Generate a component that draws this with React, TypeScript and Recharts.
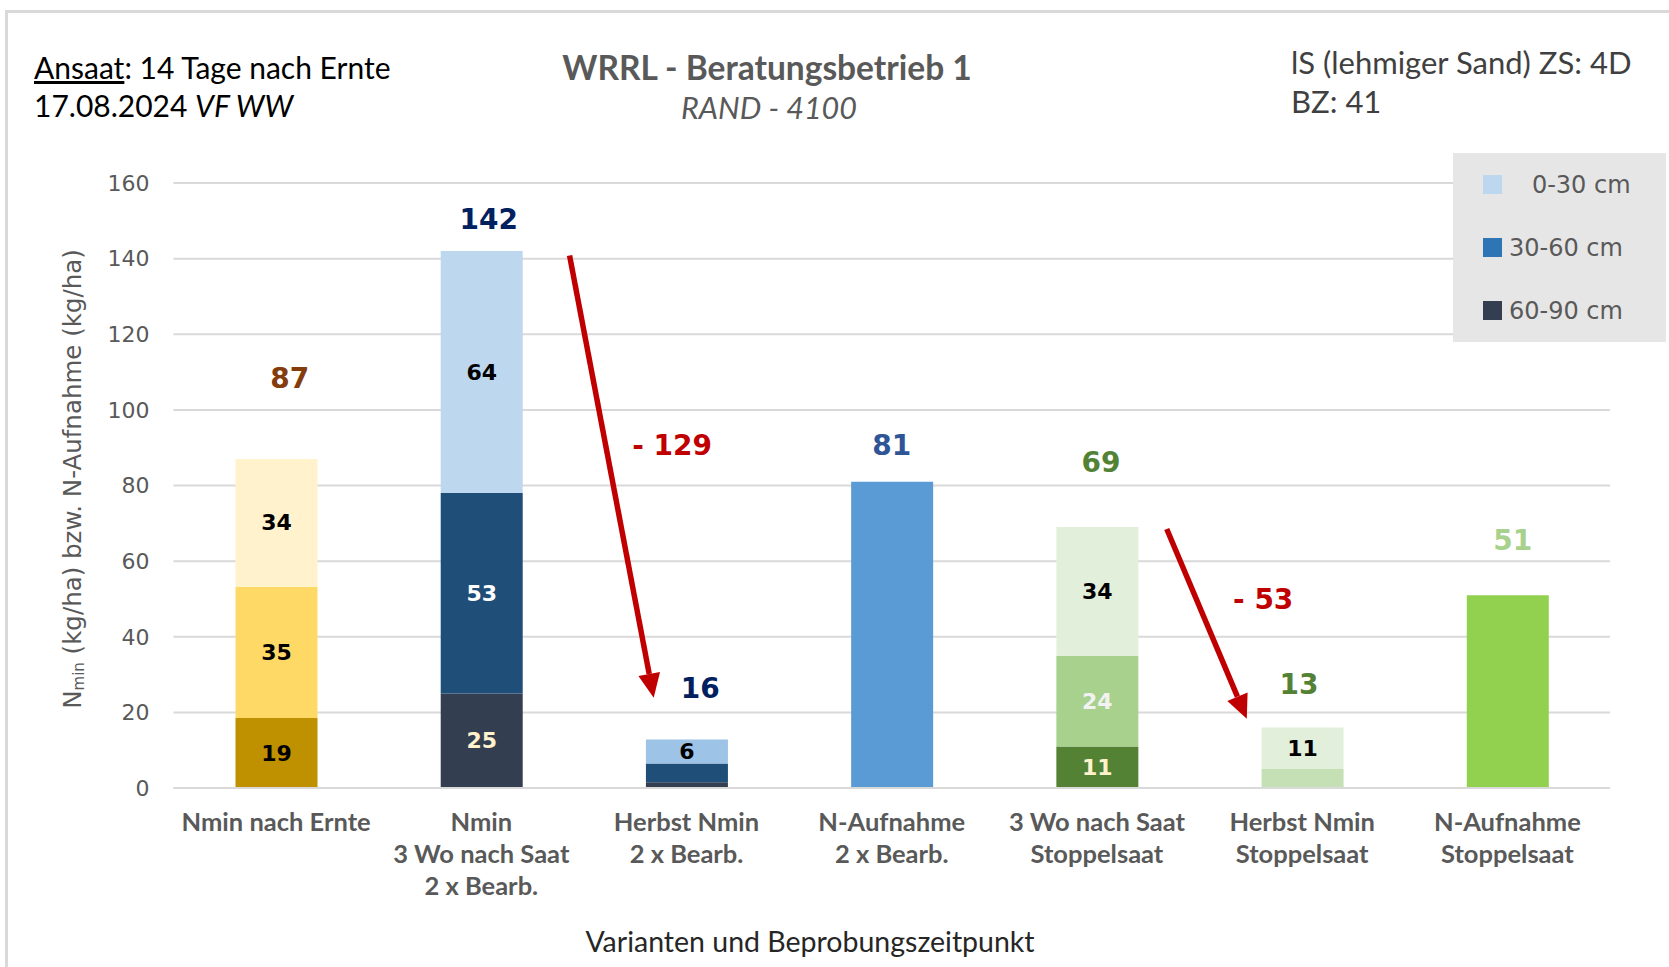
import React from 'react';
import {
  BarChart, Bar, XAxis, YAxis, CartesianGrid, Cell, LabelList, Legend,
  ReferenceLine, ReferenceDot,
} from 'recharts';

// ---------- data ----------
const categories = [
  'Nmin nach Ernte',
  'Nmin\n3 Wo nach Saat\n2 x Bearb.',
  'Herbst Nmin\n2 x Bearb.',
  'N-Aufnahme\n2 x Bearb.',
  '3 Wo nach Saat\nStoppelsaat',
  'Herbst Nmin\nStoppelsaat',
  'N-Aufnahme\nStoppelsaat',
];
const layer6090 = [18.5, 25, 1.5, 81, 11, 5, 51]; // bottom segment (single bars too)
const layer3060 = [34.7, 53, 5, 0, 24, 0, 0];
const layer030 = [33.8, 64, 6.3, 0, 34, 11, 0];

const labels6090 = ['19', '25', '', '', '11', '', ''];
const labels3060 = ['35', '53', '', '', '24', '', ''];
const labels030 = ['34', '64', '6', '', '34', '11', ''];

const totalLabels = ['87', '142', '16', '81', '69', '13', '51'];
const totalLabelX = [0.067, 1.036, 2.067, 3.0, 4.02, 4.984, 6.026];
const totalLabelY = [108.2, 150.4, 26.2, 90.7, 86.2, 27.3, 65.4];

const yTicks = [0, 20, 40, 60, 80, 100, 120, 140, 160];

// arrows in (category index, value) units
const arrows = [
  { x1: 1.43, y1: 140.8, x2: 1.84, y2: 23.9 },
  { x1: 4.34, y1: 68.5, x2: 4.73, y2: 18.3 },
];
const diffLabels = [
  { x: 1.93, y: 90.7, text: '- 129' },
  { x: 4.81, y: 49.9, text: '- 53' },
];

const legendNames = ['60-90 cm', '30-60 cm', '   0-30 cm'];

// ---------- styles ----------
const colors6090 = ['#BF9000', '#333F50', '#333F50', '#5B9BD5', '#548235', '#C5E0B4', '#92D050'];
const colors3060 = ['#FFD966', '#1F4E79', '#1F4E79', '#5B9BD5', '#A9D18E', '#C5E0B4', '#92D050'];
const colors030 = ['#FFF2CC', '#BDD7EE', '#9DC3E6', '#5B9BD5', '#E2EFDA', '#E2EFDA', '#92D050'];
const labelColors6090 = ['#000000', '#FFF2CC', '#000', '#000', '#FFF2CC', '#000', '#000'];
const labelColors3060 = ['#000000', '#FFFFFF', '#000', '#000', '#F2F2F2', '#000', '#000'];
const labelColors030 = ['#000000', '#000000', '#000', '#000', '#000000', '#000', '#000'];
const totalColors = ['#843C0C', '#002060', '#002060', '#2F5597', '#538135', '#538135', '#A9D18E'];
const legendColors = ['#333F50', '#2E75B6', '#BDD7EE'];

const data = categories.map((c, i) => ({
  name: c,
  pos: i,
  v6090: layer6090[i],
  v3060: layer3060[i],
  v030: layer030[i],
}));

const SANS = 'DejaVu Sans, Verdana, sans-serif';
const CAL = 'Lato, "Open Sans", sans-serif';

const makeSegLabel = (texts: string[], cols: string[]) => (props: any) => {
  const vb = props.viewBox || props;
  const x = vb.x ?? props.x;
  const y = vb.y ?? props.y;
  const w = vb.width ?? props.width;
  const h = vb.height ?? props.height;
  const idx = props.value;
  if (idx == null || typeof idx !== 'number') return null;
  const t = texts[idx];
  if (!t) return null;
  return (
    <text
      x={x + w / 2}
      y={y + h / 2}
      textAnchor="middle"
      dominantBaseline="central"
      fontFamily={SANS}
      fontWeight="bold"
      fontSize={22}
      fill={cols[idx]}
    >
      {t}
    </text>
  );
};

const CategoryTick = (props: any) => {
  const { x, y, payload } = props;
  const lines = String(payload.value).split('\n');
  return (
    <g>
      {lines.map((l, i) => (
        <text
          key={i}
          x={x}
          y={y + 25 + i * 32}
          textAnchor="middle"
          dominantBaseline="central"
          fontFamily={CAL}
          fontWeight={700}
          fontSize={25.5}
          fill="#595959"
        >
          {l}
        </text>
      ))}
    </g>
  );
};

const YLabel = (props: any) => {
  const vb = props.viewBox || {};
  const cx = (vb.x ?? 53) + 18.5;
  const cy = 479;
  return (
    <text
      x={cx}
      y={cy}
      transform={`rotate(-90, ${cx}, ${cy})`}
      textAnchor="middle"
      dominantBaseline="central"
      fontFamily={SANS}
      fontSize={24.5}
      fill="#595959"
    >
      N
      <tspan dy={7} fontSize={15}>min</tspan>
      <tspan dy={-7}> (kg/ha) bzw. N-Aufnahme (kg/ha)</tspan>
    </text>
  );
};

const LegendContent = () => (
  <div
    style={{
      width: 213,
      height: 189,
      background: '#E7E6E6',
      boxSizing: 'border-box',
      paddingLeft: 30,
      paddingTop: 16,
    }}
  >
    {[2, 1, 0].map((i) => (
      <div
        key={i}
        style={{ display: 'flex', alignItems: 'center', height: 31, marginBottom: 32 }}
      >
        <div style={{ width: 19, height: 19, background: legendColors[i], marginRight: 7 }} />
        <span
          style={{
            fontFamily: SANS,
            fontSize: 24,
            color: '#595959',
            whiteSpace: 'pre',
          }}
        >
          {legendNames[i]}
        </span>
      </div>
    ))}
  </div>
);

const ArrowShape = (props: any) => {
  const { x1, y1, x2, y2 } = props;
  if ([x1, y1, x2, y2].some((v) => v == null || isNaN(v))) return null;
  const dx = x2 - x1;
  const dy = y2 - y1;
  const len = Math.sqrt(dx * dx + dy * dy);
  const ux = dx / len;
  const uy = dy / len;
  const headL = 24;
  const headW = 11;
  const bx = x2 - ux * headL;
  const by = y2 - uy * headL;
  const px = -uy;
  const py = ux;
  return (
    <g>
      <line x1={x1} y1={y1} x2={bx} y2={by} stroke="#C00000" strokeWidth={5.5} />
      <polygon
        points={`${x2},${y2} ${bx + px * headW},${by + py * headW} ${bx - px * headW},${by - py * headW}`}
        fill="#C00000"
      />
    </g>
  );
};

const PLOT_W = 1669 - 59 - 173.5;
const HALF_BAND = PLOT_W / 14;

export default function App() {
  return (
    <div
      style={{
        position: 'absolute',
        left: 0,
        top: 0,
        width: 1669,
        height: 967,
        background: '#fff',
        overflow: 'hidden',
      }}
    >
      {/* outer frame */}
      <div
        style={{
          position: 'absolute',
          left: 5,
          top: 10,
          width: 1700,
          height: 1000,
          borderTop: '3px solid #D9D9D9',
          borderLeft: '3px solid #D9D9D9',
        }}
      />
      <BarChart
        width={1669}
        height={967}
        data={data}
        margin={{ top: 183, right: 59, bottom: 79, left: 53.5 }}
        style={{ position: 'absolute', left: 0, top: 0 }}
      >
        <CartesianGrid vertical={false} stroke="#D9D9D9" strokeWidth={2} />
        <XAxis
          xAxisId="cat"
          dataKey="name"
          height={100}
          interval={0}
          tickLine={false}
          axisLine={{ stroke: '#D9D9D9', strokeWidth: 2 }}
          tick={<CategoryTick />}
        />
        <XAxis
          xAxisId="num"
          dataKey="pos"
          type="number"
          domain={[0, 6]}
          padding={{ left: HALF_BAND, right: HALF_BAND }}
          allowDataOverflow
          hide
        />
        <YAxis
          width={120}
          domain={[0, 160]}
          ticks={yTicks}
          interval={0}
          tickLine={false}
          axisLine={false}
          tickSize={0}
          tickMargin={24}
          tick={{ fontFamily: SANS, fontSize: 22, fill: '#595959' }}
          label={<YLabel />}
        />
        <Legend
          layout="vertical"
          align="center"
          verticalAlign="middle"
          wrapperStyle={{ position: 'absolute', left: 1453, top: 153, width: 213, height: 189 }}
          content={<LegendContent />}
        />
        <Bar xAxisId="cat" dataKey="v6090" name="60-90 cm" stackId="a" barSize={82} fill="#333F50" isAnimationActive={false}>
          {data.map((_, i) => (
            <Cell key={i} fill={colors6090[i]} />
          ))}
          <LabelList dataKey="pos" content={makeSegLabel(labels6090, labelColors6090)} />
        </Bar>
        <Bar xAxisId="cat" dataKey="v3060" name="30-60 cm" stackId="a" barSize={82} fill="#2E75B6" isAnimationActive={false}>
          {data.map((_, i) => (
            <Cell key={i} fill={colors3060[i]} />
          ))}
          <LabelList dataKey="pos" content={makeSegLabel(labels3060, labelColors3060)} />
        </Bar>
        <Bar xAxisId="cat" dataKey="v030" name="0-30 cm" stackId="a" barSize={82} fill="#BDD7EE" isAnimationActive={false}>
          {data.map((_, i) => (
            <Cell key={i} fill={colors030[i]} />
          ))}
          <LabelList dataKey="pos" content={makeSegLabel(labels030, labelColors030)} />
        </Bar>
        {arrows.map((a, i) => (
          <ReferenceLine
            key={`arrow-${i}`}
            xAxisId="num"
            segment={[{ x: a.x1, y: a.y1 }, { x: a.x2, y: a.y2 }]}
            shape={<ArrowShape />}
            ifOverflow="visible"
          />
        ))}
        {totalLabels.map((t, i) => (
          <ReferenceDot
            key={`tot-${i}`}
            xAxisId="num"
            x={totalLabelX[i]}
            y={totalLabelY[i]}
            r={0}
            ifOverflow="visible"
            shape={(p: any) => (
              <text
                x={p.cx}
                y={p.cy}
                textAnchor="middle"
                dominantBaseline="central"
                fontFamily={SANS}
                fontWeight="bold"
                fontSize={28}
                fill={totalColors[i]}
              >
                {t}
              </text>
            )}
          />
        ))}
        {diffLabels.map((d, i) => (
          <ReferenceDot
            key={`diff-${i}`}
            xAxisId="num"
            x={d.x}
            y={d.y}
            r={0}
            ifOverflow="visible"
            shape={(p: any) => (
              <text
                x={p.cx}
                y={p.cy}
                textAnchor="middle"
                dominantBaseline="central"
                fontFamily={SANS}
                fontWeight="bold"
                fontSize={28}
                fill="#C00000"
              >
                {d.text}
              </text>
            )}
          />
        ))}
      </BarChart>

      {/* header texts */}
      <div style={{ position: 'absolute', left: 34, top: 49, fontFamily: CAL, fontSize: 30, lineHeight: '36px', color: '#000', whiteSpace: 'nowrap' }}>
        <span style={{ textDecoration: 'underline' }}>Ansaat</span>: 14 Tage nach Ernte
      </div>
      <div style={{ position: 'absolute', left: 34, top: 87, fontFamily: CAL, fontSize: 30, lineHeight: '36px', color: '#000', whiteSpace: 'nowrap' }}>
        17.08.2024 <i>VF WW</i>
      </div>
      <div style={{ position: 'absolute', left: 467, width: 600, top: 49, textAlign: 'center', fontFamily: CAL, fontWeight: 700, fontSize: 33.5, lineHeight: '36px', color: '#595959', whiteSpace: 'nowrap' }}>
        WRRL - Beratungsbetrieb 1
      </div>
      <div style={{ position: 'absolute', left: 469, width: 600, top: 89, textAlign: 'center', fontFamily: CAL, fontStyle: 'italic', fontSize: 30.5, lineHeight: '36px', color: '#595959', whiteSpace: 'nowrap' }}>
        RAND - 4100
      </div>
      <div style={{ position: 'absolute', left: 1291, top: 44, fontFamily: CAL, fontSize: 31, lineHeight: '36px', color: '#404040', whiteSpace: 'nowrap' }}>
        lS (lehmiger Sand) ZS: 4D
      </div>
      <div style={{ position: 'absolute', left: 1291, top: 83, fontFamily: CAL, fontSize: 31, lineHeight: '36px', color: '#404040', whiteSpace: 'nowrap' }}>
        BZ: 41
      </div>
      <div style={{ position: 'absolute', left: 410, width: 800, top: 923, textAlign: 'center', fontFamily: CAL, fontSize: 28.5, lineHeight: '36px', color: '#262626', whiteSpace: 'nowrap' }}>
        Varianten und Beprobungszeitpunkt
      </div>
    </div>
  );
}
